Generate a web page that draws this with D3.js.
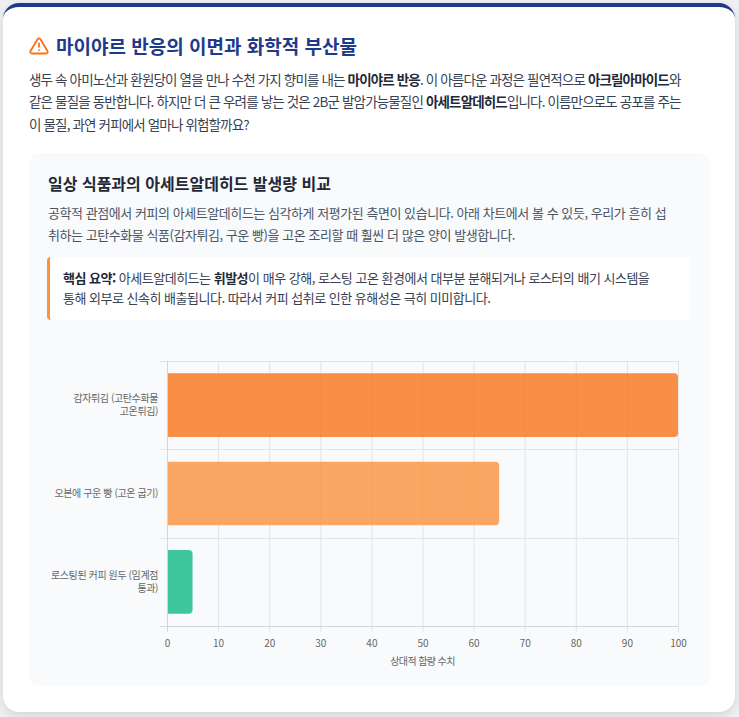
<!DOCTYPE html>
<html lang="ko">
<head>
<meta charset="utf-8">
<script src="https://cdn.jsdelivr.net/npm/d3@7"></script>
<style>
  html, body { margin: 0; padding: 0; }
  body {
    width: 739px; height: 717px; overflow: hidden;
    background: #eef0f2;
    font-family: "Noto Sans CJK KR", "Noto Sans", sans-serif;
    position: relative;
  }
  .card {
    position: absolute; left: 3px; top: 3px; width: 732px; height: 705px;
    background: #fff; border-radius: 16px; border-top: 4px solid #1e3a8a;
    box-shadow: 0 3px 10px rgba(0,0,0,0.12);
  }
  .abs { position: absolute; white-space: nowrap; }
  .title {
    left: 26px; top: 25px; height: 28px; line-height: 28px;
    font-size: 19px; font-weight: 700; color: #1e3a8a; letter-spacing: 0px;
    display: flex; align-items: center;
  }
  .title svg { margin-right: 7px; }
  .intro {
    left: 26px; top: 61px; font-size: 13.5px; line-height: 22.3px;
    color: #374151; letter-spacing: -0.85px;
  }
  .panel {
    position: absolute; left: 26px; top: 146px; width: 681px; height: 533px;
    background: #f8fafc; border-radius: 10px;
  }
  .sub {
    left: 19px; top: 18px; font-size: 16px; font-weight: 700; line-height: 24px;
    color: #1f2937; letter-spacing: 0px;
  }
  .desc {
    left: 19px; top: 49px; font-size: 13px; line-height: 22px;
    color: #4b5563; letter-spacing: -0.45px;
  }
  .callout {
    position: absolute; left: 18px; top: 104px; width: 640px; height: 63px;
    background: #fff; border-left: 3px solid #fb923c; border-radius: 4px;
  }
  .callout .txt {
    left: 13px; top: 11px; font-size: 13px; line-height: 20px;
    color: #374151; letter-spacing: -0.5px;
  }
  b { font-weight: 700; color: #1f2937; }
  #chart { position: absolute; left: 19px; top: 192px; }
</style>
</head>
<body>
<div class="card">
  <div class="abs title">
    <svg width="20" height="20" viewBox="0 0 24 24" fill="none" stroke="#f97316" stroke-width="2.2" stroke-linecap="round" stroke-linejoin="round">
      <path d="M10.29 3.86L1.82 18a2 2 0 0 0 1.71 3h16.94a2 2 0 0 0 1.71-3L13.71 3.86a2 2 0 0 0-3.42 0z"></path>
      <line x1="12" y1="9" x2="12" y2="13"></line>
      <line x1="12" y1="17" x2="12.01" y2="17"></line>
    </svg>
    <span>마이야르 반응의 이면과 화학적 부산물</span>
  </div>
  <div class="abs intro">생두 속 아미노산과 환원당이 열을 만나 수천 가지 향미를 내는 <b>마이야르 반응</b>. 이 아름다운 과정은 필연적으로 <b>아크릴아마이드</b>와<br>같은 물질을 동반합니다. 하지만 더 큰 우려를 낳는 것은 2B군 발암가능물질인 <b>아세트알데히드</b>입니다. 이름만으로도 공포를 주는<br>이 물질, 과연 커피에서 얼마나 위험할까요?</div>
  <div class="panel">
    <div class="abs sub">일상 식품과의 아세트알데히드 발생량 비교</div>
    <div class="abs desc">공학적 관점에서 커피의 아세트알데히드는 심각하게 저평가된 측면이 있습니다. 아래 차트에서 볼 수 있듯, 우리가 흔히 섭<br>취하는 고탄수화물 식품(감자튀김, 구운 빵)을 고온 조리할 때 훨씬 더 많은 양이 발생합니다.</div>
    <div class="callout">
      <div class="abs txt"><b>핵심 요약:</b> 아세트알데히드는 <b>휘발성</b>이 매우 강해, 로스팅 고온 환경에서 대부분 분해되거나 로스터의 배기 시스템을<br>통해 외부로 신속히 배출됩니다. 따라서 커피 섭취로 인한 유해성은 극히 미미합니다.</div>
    </div>
    <div id="chart"></div>
  </div>
</div>
<script>
// chart data
var categories = [
  ['감자튀김 (고탄수화물', '고온튀김)'],
  ['오븐에 구운 빵 (고온 굽기)'],
  ['로스팅된 커피 원두 (임계점', '통과)']
];
var values = [100, 65, 5];
var barColors = ['#f97316', '#fb923c', '#10b981'];
var xTicks = [0, 10, 20, 30, 40, 50, 60, 70, 80, 90, 100];
var xTitle = '상대적 함량 수치';

var width = 643, height = 335;
var margin = {top: 16, right: 13, bottom: 54, left: 119};
var plotW = width - margin.left - margin.right;
var plotH = height - margin.top - margin.bottom;

var svg = d3.select('#chart')
  .append('svg')
  .attr('width', width)
  .attr('height', height)
  .style('font-family', '"Noto Sans CJK KR", "Noto Sans", sans-serif');

var g = svg.append('g')
  .attr('transform', `translate(${margin.left},${margin.top})`);

var xScale = d3.scaleLinear()
  .domain([0, 100])
  .range([0, plotW]);

var yScale = d3.scaleBand()
  .domain(d3.range(categories.length))
  .range([0, plotH])
  .paddingInner(0)
  .paddingOuter(0);

var gridColor = '#e2e4e7';

// vertical grid
g.append('g')
  .attr('class', 'grid-x')
  .selectAll('line')
  .data(xTicks)
  .enter()
  .append('line')
  .attr('x1', d => xScale(d) + 0.5)
  .attr('x2', d => xScale(d) + 0.5)
  .attr('y1', 0)
  .attr('y2', d => d === 0 ? plotH : plotH + 6)
  .style('stroke', gridColor)
  .style('stroke-width', 1);

// horizontal grid at band edges
var edges = d3.range(categories.length + 1).map(i => i * yScale.bandwidth());
g.append('g')
  .attr('class', 'grid-y')
  .selectAll('line')
  .data(edges)
  .enter()
  .append('line')
  .attr('x1', -7)
  .attr('x2', plotW)
  .attr('y1', d => Math.round(d) + 0.5)
  .attr('y2', d => Math.round(d) + 0.5)
  .style('stroke', gridColor)
  .style('stroke-width', 1);

// axis borders
g.append('line')
  .attr('x1', -7).attr('x2', plotW)
  .attr('y1', plotH + 0.5).attr('y2', plotH + 0.5)
  .style('stroke', '#d4d7da');
g.append('line')
  .attr('x1', 0.5).attr('x2', 0.5)
  .attr('y1', 0).attr('y2', plotH + 6)
  .style('stroke', '#d4d7da');

// bars, rounded at the value end only
function barPath(x0, x1, y, h, r) {
  r = Math.min(r, (x1 - x0) / 2, h / 2);
  return `M${x0},${y}H${x1 - r}Q${x1},${y} ${x1},${y + r}V${y + h - r}Q${x1},${y + h} ${x1 - r},${y + h}H${x0}Z`;
}

var bandPct = 0.72;
g.append('g')
  .attr('class', 'bars')
  .selectAll('path')
  .data(values)
  .enter()
  .append('path')
  .attr('d', (d, i) => {
    var bw = yScale.bandwidth() * bandPct;
    var y = yScale(i) + (yScale.bandwidth() - bw) / 2;
    return barPath(xScale(0) + 1, xScale(d), y, bw, 4);
  })
  .style('fill', (d, i) => barColors[i])
  .style('fill-opacity', 0.8);

// x tick labels
var xAxis = d3.axisBottom(xScale)
  .tickValues(xTicks)
  .tickSize(0)
  .tickPadding(14);

var xg = g.append('g')
  .attr('class', 'x-axis')
  .attr('transform', `translate(0,${plotH})`)
  .call(xAxis);
xg.select('.domain').remove();
xg.selectAll('.tick text')
  .style('font-size', '10px')
  .style('fill', '#666')
  .style('font-family', '"Noto Sans CJK KR", sans-serif');

// x title
g.append('text')
  .attr('x', plotW / 2)
  .attr('y', plotH + 39)
  .attr('text-anchor', 'middle')
  .style('font-size', '10px')
  .style('letter-spacing', '-0.6px')
  .style('fill', '#666')
  .text(xTitle);

// y labels (multi-line)
var yLabels = g.append('g')
  .attr('class', 'y-labels')
  .selectAll('text')
  .data(categories)
  .enter()
  .append('text')
  .attr('text-anchor', 'end')
  .attr('transform', (d, i) => `translate(-9,${yScale(i) + yScale.bandwidth() / 2})`)
  .style('font-size', '10px')
  .style('letter-spacing', '-0.4px')
  .style('fill', '#666');

yLabels.each(function(lines) {
  var t = d3.select(this);
  var lh = 12.5;
  var start = -(lines.length - 1) * lh / 2;
  lines.forEach((line, k) => {
    t.append('tspan')
      .attr('x', 0)
      .attr('y', start + k * lh)
      .attr('dy', '0.35em')
      .text(line);
  });
});
</script>
</body>
</html>
